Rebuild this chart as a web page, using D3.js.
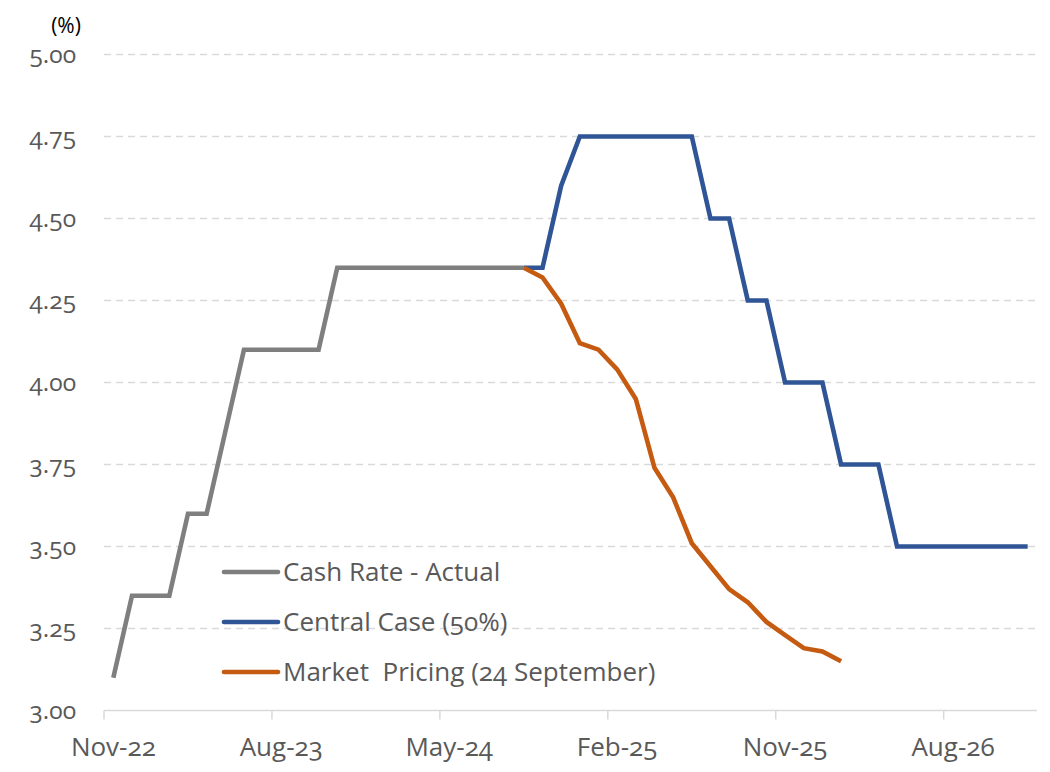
<!DOCTYPE html>
<html>
<head>
<meta charset="utf-8">
<script src="https://cdn.jsdelivr.net/npm/d3@7"></script>
<style>
  body { margin: 0; background: #fff; }
  svg text { font-family: "Open Sans", "Noto Sans", sans-serif; font-variant-numeric: oldstyle-nums; }
</style>
</head>
<body>
<svg id="chart" width="1050" height="772"></svg>
<script>
// monthly categories, Nov-22 .. Dec-26
const months = d3.timeMonths(new Date(2022, 10, 1), new Date(2027, 0, 1));
const fmtMonth = d3.timeFormat("%b-%y");
const categories = months.map(fmtMonth);

const yTicks = [3.00, 3.25, 3.50, 3.75, 4.00, 4.25, 4.50, 4.75, 5.00];

// cash rate, actual (from Nov-22)
const actualStart = "Nov-22";
const actualValues = [3.10, 3.35, 3.35, 3.35, 3.60, 3.60, 3.85, 4.10, 4.10, 4.10, 4.10, 4.10,
  4.35, 4.35, 4.35, 4.35, 4.35, 4.35, 4.35, 4.35, 4.35, 4.35, 4.35];

// central case (50%), from Sep-24
const centralStart = "Sep-24";
const centralValues = [4.35, 4.35, 4.60, 4.75, 4.75, 4.75, 4.75, 4.75, 4.75, 4.75, 4.50, 4.50,
  4.25, 4.25, 4.00, 4.00, 4.00, 3.75, 3.75, 3.75, 3.50, 3.50, 3.50, 3.50, 3.50, 3.50, 3.50, 3.50];

// market pricing (24 September), from Sep-24
const marketStart = "Sep-24";
const marketValues = [4.35, 4.32, 4.24, 4.12, 4.10, 4.04, 3.95, 3.74, 3.65, 3.51, 3.44, 3.37,
  3.33, 3.27, 3.23, 3.19, 3.18, 3.15];

const series = [
  { name: "Cash Rate - Actual", color: "#7f7f7f", start: actualStart, values: actualValues },
  { name: "Central Case (50%)", color: "#2f5597", start: centralStart, values: centralValues },
  { name: "Market  Pricing (24 September)", color: "#c55a11", start: marketStart, values: marketValues }
];

function drawChart(svgId) {
  const svg = d3.select(svgId);
  svg.selectAll("*").remove();

  const margin = { top: 54.5, left: 104 },
    width = 933,
    height = 656;

  const g = svg.append("g").attr("transform", "translate(" + margin.left + "," + margin.top + ")");

  const x = d3.scaleBand().domain(categories).range([0, width]).padding(0);
  const y = d3.scaleLinear().domain([3, 5]).range([height, 0]);
  const cx = c => x(c) + x.bandwidth() / 2;

  // gridlines
  g.selectAll(".grid")
    .data(yTicks.filter(v => v > 3))
    .enter()
    .append("line")
    .attr("x1", 0).attr("x2", width)
    .attr("y1", d => y(d)).attr("y2", d => y(d))
    .attr("stroke", "#d9d9d9")
    .attr("stroke-width", 1.5)
    .style("stroke-dasharray", "7, 5");

  // y labels
  g.selectAll(".ylab")
    .data(yTicks)
    .enter()
    .append("text")
    .attr("x", -28)
    .attr("y", d => y(d))
    .attr("dy", "0.35em")
    .attr("text-anchor", "end")
    .attr("fill", "#595959")
    .attr("font-size", "24.5px")
    .text(d => d3.format(".2f")(d));

  svg.append("text")
    .attr("x", 66).attr("y", 33)
    .attr("text-anchor", "middle")
    .attr("fill", "#000")
    .attr("font-size", "21px")
    .text("(%)");

  // x axis, ticks between categories every 9 months
  const tickIdx = d3.range(0, categories.length, 9);
  g.append("line")
    .attr("x1", 0).attr("x2", width)
    .attr("y1", height).attr("y2", height)
    .attr("stroke", "#d9d9d9").attr("stroke-width", 1.5);
  g.selectAll(".xtick")
    .data(tickIdx)
    .enter()
    .append("line")
    .attr("x1", i => x(categories[i])).attr("x2", i => x(categories[i]))
    .attr("y1", height).attr("y2", height + 9)
    .attr("stroke", "#d9d9d9").attr("stroke-width", 1.5);
  g.selectAll(".xlab")
    .data(tickIdx)
    .enter()
    .append("text")
    .attr("x", i => cx(categories[i]))
    .attr("y", height + 45)
    .attr("text-anchor", "middle")
    .attr("fill", "#595959")
    .attr("font-size", "26px")
    .text(i => categories[i]);

  const line = d3.line()
    .x(d => cx(d.c))
    .y(d => y(d.v));

  series.forEach(s => {
    const s0 = categories.indexOf(s.start);
    const pts = s.values.map((v, i) => ({ c: categories[s0 + i], v: v }));
    g.append("path")
      .datum(pts)
      .attr("fill", "none")
      .attr("stroke", s.color)
      .attr("stroke-width", 4.6)
      .attr("stroke-linejoin", "miter")
      .attr("d", line);
  });

  // legend
  const lg = svg.append("g").attr("transform", "translate(224,572)");
  const item = lg.selectAll(".item")
    .data(series)
    .enter()
    .append("g")
    .attr("transform", (d, i) => "translate(0," + i * 50 + ")");
  item.append("line")
    .attr("x1", 0).attr("x2", 54)
    .attr("stroke", d => d.color)
    .attr("stroke-width", 4.6)
    .attr("stroke-linecap", "round");
  item.append("text")
    .attr("x", 59)
    .attr("dy", "0.35em")
    .attr("fill", "#595959")
    .attr("font-size", "26px")
    .style("white-space", "pre")
    .text(d => d.name);
}

drawChart("#chart");
</script>
</body>
</html>
